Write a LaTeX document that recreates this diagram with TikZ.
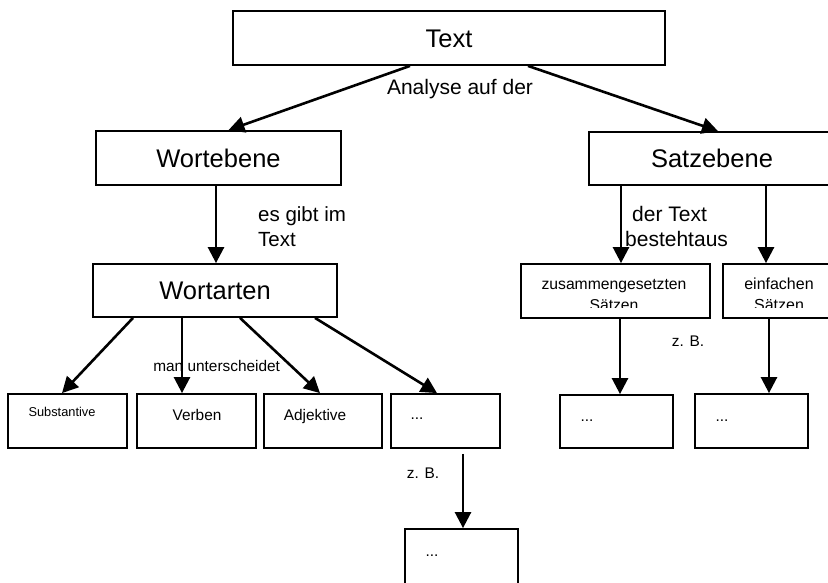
\documentclass[tikz,border=0pt]{standalone}
\usepackage{fontspec}
\setmainfont{Liberation Sans}
\usetikzlibrary{arrows.meta}
\begin{document}
\begin{tikzpicture}[x=1pt,y=-1pt,
  box/.style={draw, line width=1.8pt, inner sep=0pt, anchor=center},
  bigtxt/.style={font=\fontsize{25.5}{30}\selectfont, text height=18.3pt, text depth=0pt},
  arr/.style={line width=2.6pt, -{Triangle[length=16pt,width=16pt]}},
  lbl/.style={inner sep=0pt, anchor=base},
  lblw/.style={inner sep=0pt, anchor=base west},
  midtxt/.style={font=\fontsize{21}{24}\selectfont},
  smalltxt/.style={font=\fontsize{15.4}{18}\selectfont},
  tinytxt/.style={font=\fontsize{12.8}{15}\selectfont}
]
\clip (0,0) rectangle (828,582);
% boxes
\node[box, bigtxt, minimum width=432pt, minimum height=54pt] (text) at (449,38) {Text};
\node[box, bigtxt, minimum width=245pt, minimum height=54pt] (wortebene) at (218.5,158) {Wortebene};
\node[box, bigtxt, minimum width=246pt, minimum height=53pt] (satzebene) at (712,158.5) {Satzebene};
\node[box, bigtxt, minimum width=244pt, minimum height=53pt] (wortarten) at (215,290.5) {Wortarten};
\node[box, minimum width=189pt, minimum height=54pt] (zus) at (615.5,291) {};
\node[box, minimum width=117pt, minimum height=54pt] (einf) at (781.5,291) {};
\node[box, minimum width=113pt, minimum height=53pt] (zusbsp) at (616.5,421.5) {};
\node[box, minimum width=113pt, minimum height=54pt] (einfbsp) at (751.5,421) {};
\node[box, minimum width=119pt, minimum height=54pt] (subst) at (67.5,421) {};
\node[box, minimum width=119pt, minimum height=54pt] (verben) at (196.5,421) {};
\node[box, minimum width=118pt, minimum height=54pt] (adj) at (323,421) {};
\node[box, minimum width=109pt, minimum height=54pt] (weitere) at (445.5,421) {};
\node[box, minimum width=113pt, minimum height=70pt] (bsp) at (461.5,564) {};
% texts in small boxes
\begin{scope}
\clip (521,264) rectangle (710,307.3);
\node[lbl, font=\fontsize{15.7}{18}\selectfont] (zus1) at (614,289.3) {zusammengesetzten};
\node[lbl, font=\fontsize{15.7}{18}\selectfont] (zus2) at (614,310) {Sätzen};
\end{scope}
\begin{scope}
\clip (723,264) rectangle (840,307.3);
\node[lbl, font=\fontsize{16}{18}\selectfont] (einf1) at (779,289.3) {einfachen};
\node[lbl, font=\fontsize{16}{18}\selectfont] (einf2) at (779,310) {Sätzen};
\end{scope}
\node[lbl, tinytxt] (substtxt) at (62,416.7) {Substantive};
\node[lbl, smalltxt] (verbentxt) at (197,420) {Verben};
\node[lbl, smalltxt] (adjtxt) at (315,420) {Adjektive};
\node[lbl, smalltxt] (weiteretxt) at (417,419.5) {...};
\node[lbl, smalltxt] (zusbsptxt) at (587,421) {...};
\node[lbl, smalltxt] (einfbsptxt) at (722,421) {...};
\node[lbl, smalltxt] (bsptxt) at (432,556) {...};
% connector labels
\node[lbl, midtxt] (analyse) at (460,94) {Analyse auf der};
\node[lblw, font=\fontsize{20.5}{24}\selectfont] (esgibt1) at (258,221.7) {es gibt im};
\node[lblw, font=\fontsize{20.5}{24}\selectfont] (esgibt2) at (258,246) {Text};
\node[lblw, midtxt] (dertext1) at (632,221.7) {der Text};
\node[lblw, midtxt] (dertext2) at (625,246) {bestehtaus};
\node[lbl, smalltxt] (manunt) at (216.7,371.7) {man unterscheidet};
\node[lbl, smalltxt] (zb1) at (688,346.7) {z. B.};
\node[lbl, smalltxt] (zb2) at (423,478) {z. B.};
% arrows
\draw[arr] ([xshift=-39pt]text.south) -- ([xshift=10pt]wortebene.north);
\draw[arr] ([xshift=79pt]text.south) -- ([xshift=6pt]satzebene.north);
\draw[arr] ([xshift=-2.5pt]wortebene.south) -- ([xshift=1pt]wortarten.north);
\draw[arr] ([xshift=-91pt]satzebene.south) -- ([xshift=5.5pt]zus.north);
\draw[arr] ([xshift=54pt]satzebene.south) -- ([xshift=-15.5pt]einf.north);
\draw[arr] ([xshift=4.5pt]zus.south) -- ([xshift=3.5pt]zusbsp.north);
\draw[arr] ([xshift=-12.5pt]einf.south) -- ([xshift=17.5pt]einfbsp.north);
\draw[arr] ([xshift=-82pt]wortarten.south) -- ([xshift=-5.5pt]subst.north);
\draw[arr] ([xshift=-33pt]wortarten.south) -- ([xshift=-14.5pt]verben.north);
\draw[arr] ([xshift=25pt]wortarten.south) -- ([xshift=-3pt]adj.north);
\draw[arr] ([xshift=100pt]wortarten.south) -- ([xshift=-8.5pt]weitere.north);
\draw[arr] ([xshift=17.5pt,yshift=-5pt]weitere.south) -- ([xshift=1.5pt]bsp.north);
\end{tikzpicture}
\end{document}
